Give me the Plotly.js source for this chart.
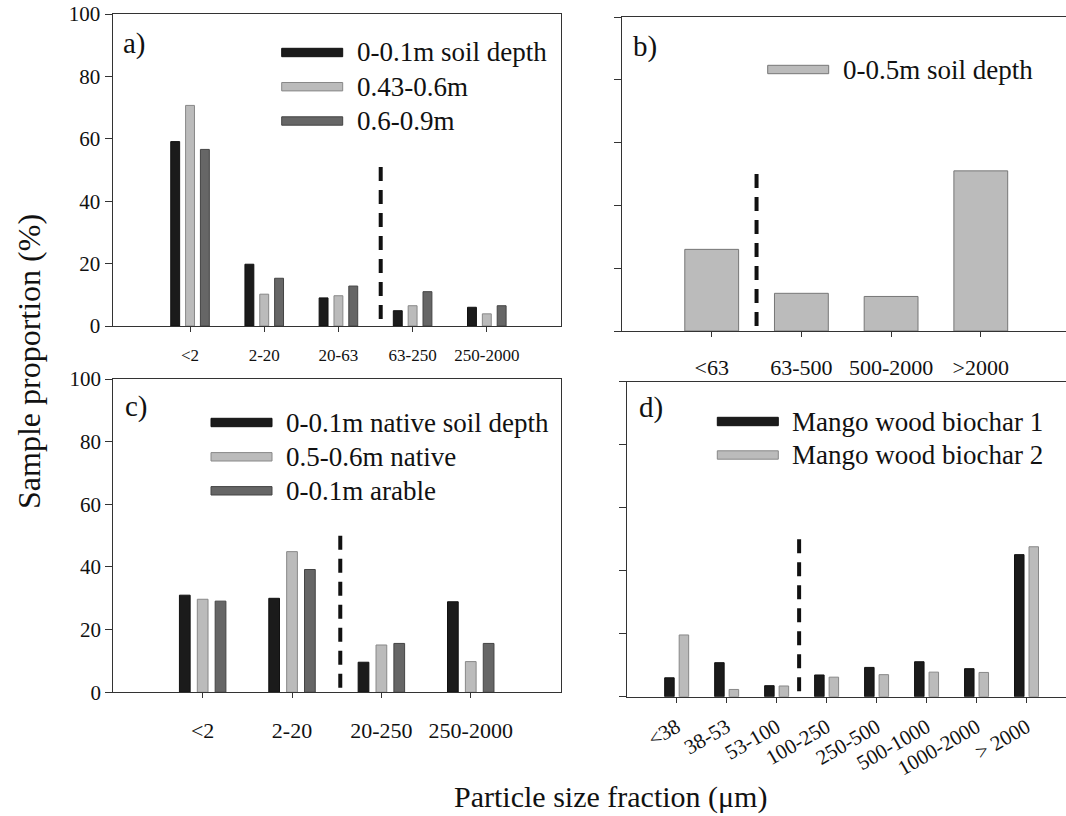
<!DOCTYPE html>
<html>
<head>
<meta charset="utf-8">
<script src="https://cdn.plot.ly/plotly-3.0.1.min.js"></script>
<style>html,body{margin:0;padding:0;background:#fff;}#chart{width:1066px;height:816px;}</style>
</head>
<body>
<div id="chart"></div>
<script>
// ---------- DATA ----------
// Panel a
const catsA = ["<2", "2-20", "20-63", "63-250", "250-2000"];
const aDepth0_01 = [59.1, 19.8, 9.0, 4.9, 6.0];
const aDepth043_06 = [70.7, 10.2, 9.7, 6.5, 3.9];
const aDepth06_09 = [56.6, 15.3, 12.8, 11.0, 6.5];
const namesA = ["0-0.1m soil depth", "0.43-0.6m", "0.6-0.9m"];
const dividerA = [2.57, 51];   // [category position, height %]

// Panel b
const catsB = ["<63", "63-500", "500-2000", ">2000"];
const bDepth0_05 = [26, 12, 11, 51];
const namesB = ["0-0.5m soil depth"];
const dividerB = [0.5, 50];

// Panel c
const catsC = ["<2", "2-20", "20-250", "250-2000"];
const cNative0_01 = [31.0, 30.0, 9.6, 28.9];
const cNative05_06 = [29.7, 44.9, 15.1, 9.8];
const cArable0_01 = [29.1, 39.2, 15.6, 15.6];
const namesC = ["0-0.1m native soil depth", "0.5-0.6m native", "0-0.1m arable"];
const dividerC = [1.54, 50];

// Panel d
const catsD = ["<38", "38-53", "53-100", "100-250", "250-500", "500-1000", "1000-2000", "> 2000"];
const dBiochar1 = [6.0, 10.8, 3.5, 6.9, 9.3, 11.1, 8.9, 45.1];
const dBiochar2 = [19.6, 2.3, 3.4, 6.2, 7.0, 7.8, 7.7, 47.6];
const namesD = ["Mango wood biochar 1", "Mango wood biochar 2"];
const dividerD = [2.45, 50];

const panelLabels = ["a)", "b)", "c)", "d)"];
const yTitle = "Sample proportion (%)";
const xTitle = "Particle size fraction (μm)";
const yTicks = [0, 20, 40, 60, 80, 100];

// ---------- STYLE ----------
const W = 1066, H = 816;
const FONT = "Liberation Serif";
const BLACK = "#1b1b1b", LIGHT = "#bbbbbb", DARK = "#666666";
const AX = "#333333";
const px = v => v / W;
const py = v => 1 - v / H;

function bar(x, y, xa, ya, color, lineColor, width, offset) {
  return {type: "bar", x: x, y: y, xaxis: xa, yaxis: ya,
    marker: {color: color, line: {color: lineColor, width: 1}},
    width: width, offset: offset, showlegend: false, hoverinfo: "skip"};
}

const traces = [
  bar(catsA, aDepth0_01, "x", "y", BLACK, "#111", 0.12, -0.26),
  bar(catsA, aDepth043_06, "x", "y", LIGHT, "#888", 0.12, -0.06),
  bar(catsA, aDepth06_09, "x", "y", DARK, "#444", 0.12, 0.14),
  bar(catsB, bDepth0_05, "x2", "y2", LIGHT, "#777", 0.6, -0.3),
  bar(catsC, cNative0_01, "x3", "y3", BLACK, "#111", 0.12, -0.26),
  bar(catsC, cNative05_06, "x3", "y3", LIGHT, "#888", 0.12, -0.06),
  bar(catsC, cArable0_01, "x3", "y3", DARK, "#444", 0.12, 0.14),
  bar(catsD, dBiochar1, "x4", "y4", BLACK, "#111", 0.19, -0.24),
  bar(catsD, dBiochar2, "x4", "y4", LIGHT, "#888", 0.19, 0.05)
];

function xax(anchor, domain, range, cats, fontSize, standoff, angle) {
  return {anchor: anchor, domain: domain, range: range, type: "category", categoryarray: cats, categoryorder: "array",
    showline: true, linecolor: AX, linewidth: 1, mirror: true, ticks: "outside", ticklen: 5,
    tickcolor: AX, tickwidth: 1, showgrid: false, zeroline: false, fixedrange: true,
    tickangle: angle, ticklabelstandoff: standoff,
    tickfont: {family: FONT, size: fontSize, color: "#111"}};
}
function yax(anchor, domain, labels, mirror) {
  return {anchor: anchor, domain: domain, range: [0, 100], showline: true, linecolor: AX, linewidth: 1, mirror: mirror,
    ticks: "outside", ticklen: 7, tickcolor: AX, tickwidth: 1, tickvals: yTicks,
    showticklabels: labels, showgrid: false, zeroline: false, fixedrange: true,
    tickfont: {family: FONT, size: 21, color: "#111"}};
}

const layout = {
  width: W, height: H, margin: {l: 0, r: 0, t: 0, b: 0},
  paper_bgcolor: "#fff", plot_bgcolor: "#fff", barmode: "overlay", showlegend: false,
  font: {family: FONT, color: "#111"},
  xaxis: xax("y", [px(112.5), px(561)], [-1.045, 5.0], catsA, 17, 9, 0),
  yaxis: yax("x", [py(326), py(14)], true, true),
  xaxis2: xax("y2", [px(622), 1], [-1, 3.95], catsB, 22, 12, 0),
  yaxis2: yax("x2", [py(331), py(17)], false, false),
  xaxis3: xax("y3", [px(113.3), px(561)], [-1, 4.01], catsC, 22, 13, 0),
  yaxis3: yax("x3", [py(692.3), py(379)], true, true),
  xaxis4: xax("y4", [px(626.7), 1], [-1, 7.79], catsD, 21, 4, -30),
  yaxis4: yax("x4", [py(696.7), py(381.7)], false, false),
  shapes: [], annotations: []
};

// divider lines
[[dividerA, "x", "y"], [dividerB, "x2", "y2"], [dividerC, "x3", "y3"], [dividerD, "x4", "y4"]].forEach(d => {
  layout.shapes.push({type: "line", xref: d[1], yref: d[2], x0: d[0][0], x1: d[0][0], y0: d[0][1], y1: 0,
    line: {color: "#111", width: 4, dash: "14px,9px"}});
});

// manual legends
function legend(names, colors, lines, swX, rowsY, textX) {
  names.forEach((n, i) => {
    layout.shapes.push({type: "rect", xref: "paper", yref: "paper",
      x0: px(swX), x1: px(swX + 61), y0: py(rowsY[i] + 4.2), y1: py(rowsY[i] - 4.2),
      fillcolor: colors[i], line: {color: lines[i], width: 1}});
    layout.annotations.push({xref: "paper", yref: "paper", x: px(textX), y: py(rowsY[i]),
      xanchor: "left", yanchor: "middle", text: n, showarrow: false,
      font: {family: FONT, size: 27, color: "#111"}});
  });
}
legend(namesA, [BLACK, LIGHT, DARK], ["#111", "#888", "#444"], 281.7, [52.5, 86.7, 121], 355);
legend(namesB, [LIGHT], ["#777"], 767.7, [69.5], 841);
legend(namesC, [BLACK, LIGHT, DARK], ["#111", "#888", "#444"], 211, [422.5, 456.8, 490.8], 284);
legend(namesD, [BLACK, LIGHT], ["#111", "#888"], 717.3, [421.5, 455], 790);

// panel labels
[[panelLabels[0], 121, 43], [panelLabels[1], 631, 46], [panelLabels[2], 123, 406], [panelLabels[3], 637, 407]].forEach(p => {
  layout.annotations.push({xref: "paper", yref: "paper", x: px(p[1]), y: py(p[2]), xanchor: "left", yanchor: "middle",
    text: p[0], showarrow: false, font: {family: FONT, size: 29, color: "#111"}});
});

// global titles
layout.annotations.push({xref: "paper", yref: "paper", x: px(29), y: py(362), text: yTitle, textangle: -90,
  showarrow: false, xanchor: "center", yanchor: "middle", font: {family: FONT, size: 32, color: "#111"}});
layout.annotations.push({xref: "paper", yref: "paper", x: px(610), y: py(797), text: xTitle,
  showarrow: false, xanchor: "center", yanchor: "middle", font: {family: FONT, size: 30, color: "#111"}});

Plotly.newPlot("chart", traces, layout, {displayModeBar: false, staticPlot: true});
</script>
</body>
</html>
